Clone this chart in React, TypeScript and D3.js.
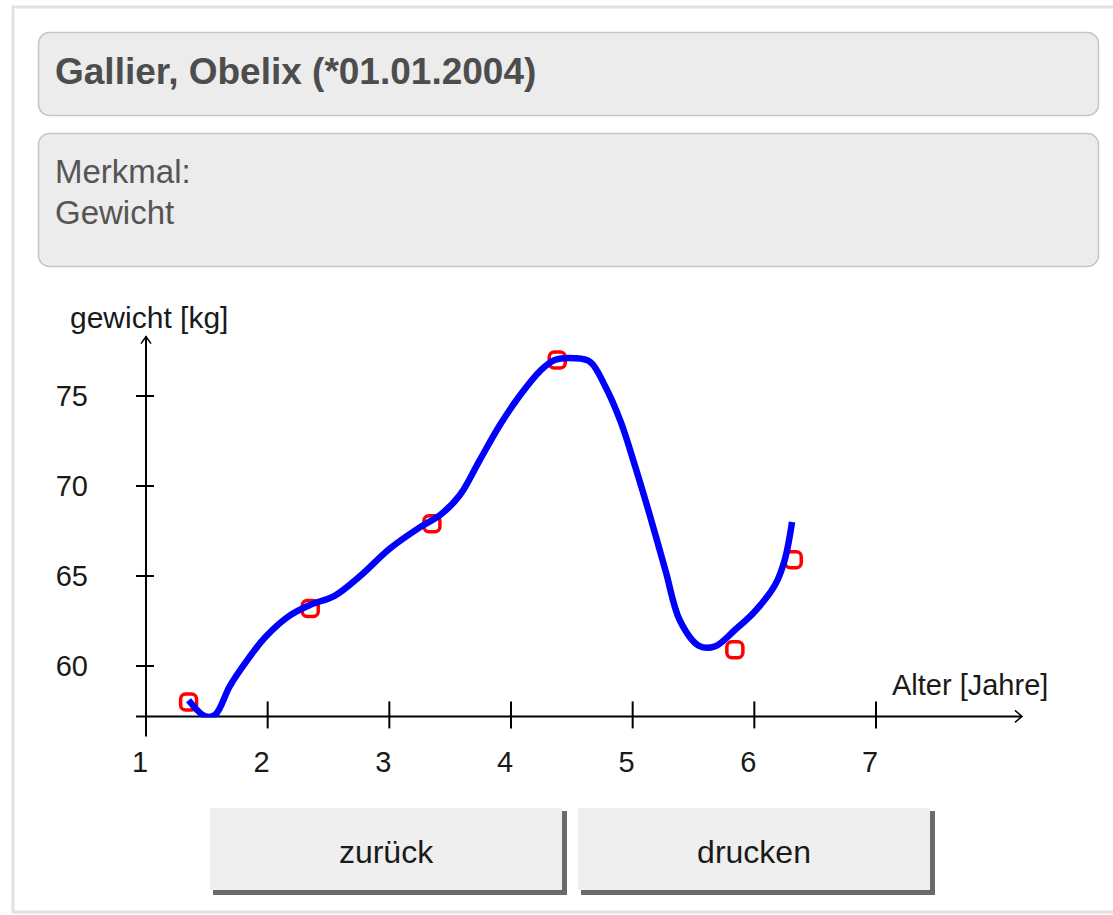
import { useEffect, useRef } from 'react';
import * as d3 from 'd3';

// Measured weights (red markers)
const measAge = [1.35, 2.35, 3.35, 4.38, 5.84, 6.32];
const measWeight = [58.0, 63.2, 67.9, 77.0, 60.9, 65.9];

// Fitted curve (blue)
const curveAge = [1.35, 1.49, 1.57, 1.69, 1.84, 1.98, 2.18, 2.35, 2.55, 2.76, 3.0, 3.25, 3.42, 3.58,
  3.74, 3.91, 4.07, 4.24, 4.36, 4.52, 4.65, 4.77, 4.9, 5.02, 5.14, 5.27, 5.39, 5.55, 5.68, 5.84,
  6.0, 6.17, 6.25, 6.31];
const curveWeight = [58.1, 57.2, 57.3, 58.9, 60.4, 61.6, 62.8, 63.4, 63.9, 65.0, 66.5, 67.7, 68.4, 69.5,
  71.4, 73.4, 75.0, 76.4, 77.0, 77.1, 76.9, 75.6, 73.6, 71.1, 68.4, 65.3, 62.5, 61.1, 61.1, 62.0,
  63.0, 64.5, 65.9, 68.0];

const xTicks = [1, 2, 3, 4, 5, 6, 7];
const yTicks = [60, 65, 70, 75];

const title = 'Gallier, Obelix (*01.01.2004)';
const featureLines = ['Merkmal:', 'Gewicht'];
const buttons = ['zurück', 'drucken'];

const W = 1113;
const H = 915;
const FONT = 'Liberation Sans, Arial, sans-serif';

export default function App() {
  const svgRef = useRef<SVGSVGElement>(null);

  useEffect(() => {
    if (!svgRef.current) return;
    const svg = d3.select(svgRef.current);
    svg.selectAll('*').remove();

    // outer frame
    svg.append('rect').attr('x', 13).attr('y', 7).attr('width', W).attr('height', 905)
      .attr('fill', '#fff').attr('stroke', '#e2e2e2').attr('stroke-width', 3);

    // header panels
    svg.append('rect').attr('x', 38.5).attr('y', 32.5).attr('width', 1060).attr('height', 83)
      .attr('rx', 11).attr('fill', '#ececec').attr('stroke', '#c6c6c6').attr('stroke-width', 1.5);
    svg.append('text').attr('x', 55).attr('y', 84).attr('font-family', FONT)
      .attr('font-size', 37).attr('font-weight', 'bold').attr('fill', '#4d4d4d').text(title);

    svg.append('rect').attr('x', 38.5).attr('y', 133.5).attr('width', 1060).attr('height', 133)
      .attr('rx', 11).attr('fill', '#ececec').attr('stroke', '#c6c6c6').attr('stroke-width', 1.5);
    featureLines.forEach((t, i) => {
      svg.append('text').attr('x', 55).attr('y', 183 + i * 41).attr('font-family', FONT)
        .attr('font-size', 33).attr('fill', '#555').text(t);
    });

    // ── Chart ──────────────────────────────────────────────
    const x = d3.scaleLinear().domain([1, 7]).range([146, 876]);
    const y = d3.scaleLinear().domain([60, 75]).range([666, 396]);
    const yBase = 57.2;
    const x0 = x(1);
    const y0 = y(yBase);
    const xEnd = x(8.2);
    const yTop = y(78.3);

    const g = svg.append('g');

    // clip so the curve stays above the x-axis
    const defs = svg.append('defs');
    defs.append('clipPath').attr('id', 'plotclip').append('rect')
      .attr('x', x0).attr('y', yTop).attr('width', xEnd - x0).attr('height', y0 - yTop + 1);

    // axes
    g.append('line').attr('x1', x0).attr('x2', x0).attr('y1', yTop).attr('y2', y0 + 20)
      .attr('stroke', '#000').attr('stroke-width', 2);
    g.append('line').attr('x1', x0 - 10).attr('x2', xEnd).attr('y1', y0).attr('y2', y0)
      .attr('stroke', '#000').attr('stroke-width', 2);
    // arrow heads
    g.append('path').attr('d', `M${x0 - 5},${yTop + 7}L${x0},${yTop}L${x0 + 5},${yTop + 7}`)
      .attr('fill', 'none').attr('stroke', '#000').attr('stroke-width', 1.5);
    g.append('path').attr('d', `M${xEnd - 7},${y0 - 6}L${xEnd},${y0}L${xEnd - 7},${y0 + 6}`)
      .attr('fill', 'none').attr('stroke', '#000').attr('stroke-width', 1.5);

    g.selectAll('line.yt').data(yTicks).enter().append('line').attr('class', 'yt')
      .attr('x1', x0 - 10).attr('x2', x0 + 8).attr('y1', d => y(d)).attr('y2', d => y(d))
      .attr('stroke', '#000').attr('stroke-width', 2);
    g.selectAll('text.yl').data(yTicks).enter().append('text').attr('class', 'yl')
      .attr('x', 88).attr('y', d => y(d) + 10).attr('text-anchor', 'end')
      .attr('font-family', FONT).attr('font-size', 29).attr('fill', '#1a1a1a').text(d => d);

    g.selectAll('line.xt').data(xTicks.slice(1)).enter().append('line').attr('class', 'xt')
      .attr('x1', d => x(d)).attr('x2', d => x(d)).attr('y1', y0 - 15).attr('y2', y0 + 12)
      .attr('stroke', '#000').attr('stroke-width', 2);
    g.selectAll('text.xl').data(xTicks).enter().append('text').attr('class', 'xl')
      .attr('x', d => x(d) - 6).attr('y', 772).attr('text-anchor', 'middle')
      .attr('font-family', FONT).attr('font-size', 29).attr('fill', '#1a1a1a').text(d => d);

    g.append('text').attr('x', 70).attr('y', 328).attr('font-family', FONT)
      .attr('font-size', 30).attr('fill', '#1a1a1a').text('gewicht [kg]');
    g.append('text').attr('x', 892).attr('y', 695).attr('font-family', FONT)
      .attr('font-size', 29).attr('fill', '#1a1a1a').text('Alter [Jahre]');

    // markers
    g.selectAll('rect.m').data(measAge).enter().append('rect').attr('class', 'm')
      .attr('x', (d) => x(d) - 8).attr('y', (_d, i) => y(measWeight[i]) - 8)
      .attr('width', 16).attr('height', 16).attr('rx', 5)
      .attr('fill', 'none').attr('stroke', '#ff0000').attr('stroke-width', 3.5);

    // fitted curve
    const pts = curveAge.map((a, i) => [a, curveWeight[i]] as [number, number]);
    const line = d3.line<[number, number]>().x(d => x(d[0])).y(d => y(d[1])).curve(d3.curveCatmullRom);
    g.append('path').attr('d', line(pts)).attr('clip-path', 'url(#plotclip)')
      .attr('fill', 'none').attr('stroke', '#0000ff').attr('stroke-width', 6.5)
      .attr('stroke-linejoin', 'round');

    // buttons
    const bx = [210, 578];
    buttons.forEach((label, i) => {
      const bg = svg.append('g').attr('transform', `translate(${bx[i]},${808})`);
      bg.append('rect').attr('x', 3).attr('y', 3).attr('width', 354).attr('height', 84).attr('fill', '#6a6a6a');
      bg.append('rect').attr('x', 0).attr('y', 0).attr('width', 352).attr('height', 82).attr('fill', '#efefef');
      bg.append('text').attr('x', 176).attr('y', 55).attr('text-anchor', 'middle')
        .attr('font-family', FONT).attr('font-size', 32).attr('fill', '#1a1a1a').text(label);
    });
  }, []);

  return (
    <div style={{ position: 'absolute', left: 0, top: 0, width: W, height: H, background: '#fff' }}>
      <svg ref={svgRef} width={W} height={H} style={{ display: 'block' }} />
    </div>
  );
}
